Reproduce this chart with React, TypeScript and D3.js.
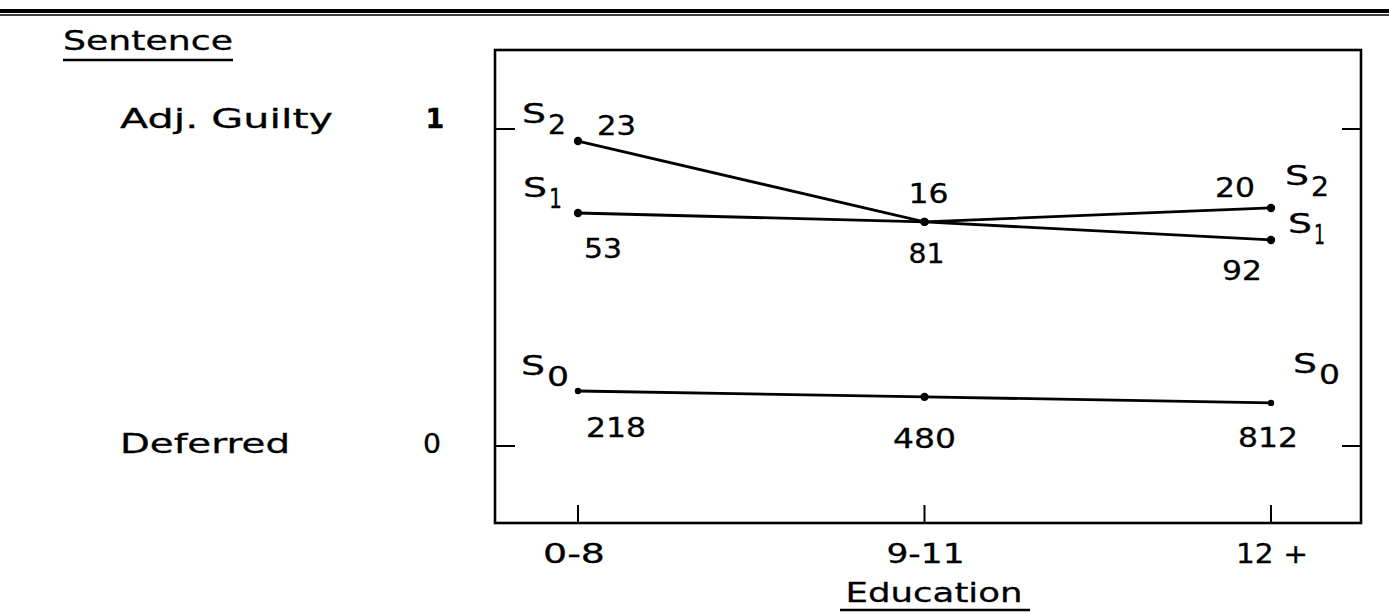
import React from "react";
import * as d3 from "d3";

// ---- data ----
const categories = ["0-8", "9-11", "12 +"];
const seriesNames = ["S0", "S1", "S2"];
const s0Values = [0.1735, 0.155, 0.136];
const s1Values = [0.735, 0.707, 0.65];
const s2Values = [0.962, 0.707, 0.751];
const s0Counts = [218, 480, 812];
const s1Counts = [53, 81, 92];
const s2Counts = [23, 16, 20];
const yTickValues = [0, 1];
const yTickLabels = ["Deferred", "Adj. Guilty"];

const W = 1389;
const H = 613;
const FONT = "DejaVu Sans";

const x = d3.scalePoint<string>().domain(categories).range([578, 1271]).padding(0);
const y = d3.scaleLinear().domain([0, 1]).range([446, 129]);

const box = { left: 495, right: 1361, top: 50, bottom: 523 };

const line = d3
  .line<number>()
  .x((_, i) => x(categories[i]) as number)
  .y((v) => y(v));

type TP = {
  x: number;
  y: number;
  w?: number;
  anchor?: "start" | "middle" | "end";
  size?: number;
  weight?: string;
  children: React.ReactNode;
};
const T = ({ x, y, w, anchor = "start", size = 27, weight = "normal", children }: TP) => (
  <text
    x={x}
    y={y}
    textAnchor={anchor}
    fontFamily={FONT}
    fontSize={size}
    fontWeight={weight}
    fill="#000"
    stroke="#000"
    strokeWidth={0.3}
    textLength={w}
    lengthAdjust={w ? "spacingAndGlyphs" : undefined}
  >
    {children}
  </text>
);

// series label "S" + subscript
const SLabel = ({ x0, yb, sub, subW = 18 }: { x0: number; yb: number; sub: string; subW?: number }) => (
  <g>
    <T x={x0} y={yb} w={24}>
      S
    </T>
    <T x={x0 + 26} y={yb + 11} w={subW}>
      {sub}
    </T>
  </g>
);

export default function App() {
  const series = [
    { name: seriesNames[0], values: s0Values, counts: s0Counts, r: 3.2 },
    { name: seriesNames[1], values: s1Values, counts: s1Counts, r: 4.2 },
    { name: seriesNames[2], values: s2Values, counts: s2Counts, r: 4.2 },
  ];
  const px = (i: number) => x(categories[i]) as number;

  return (
    <svg
      width={W}
      height={H}
      style={{ position: "absolute", left: 0, top: 0, background: "#fff" }}
    >
      {/* top double rule */}
      <rect x={0} y={9} width={W} height={4} fill="#000" />
      <line x1={0} x2={W} y1={15} y2={15} stroke="#000" strokeWidth={1.4} />

      {/* y title */}
      <T x={63} y={50} w={170}>
        Sentence
      </T>
      <line x1={63} x2={233} y1={60} y2={60} stroke="#000" strokeWidth={2.5} />

      {/* y category labels and tick values */}
      {yTickValues.map((v, i) => (
        <g key={v}>
          <T x={120} y={y(v) + (v === 1 ? -1 : 7)} w={v === 1 ? 213 : 170}>
            {yTickLabels[i]}
          </T>
          <T
            x={v === 1 ? 435 : 432}
            y={y(v) + (v === 1 ? -1 : 7)}
            anchor="middle"
            weight={v === 1 ? "bold" : "normal"}
            w={v === 1 ? undefined : 18}
          >
            {String(v)}
          </T>
        </g>
      ))}

      {/* frame */}
      <rect
        x={box.left}
        y={box.top}
        width={box.right - box.left}
        height={box.bottom - box.top}
        fill="none"
        stroke="#000"
        strokeWidth={2.6}
      />

      {/* y ticks on both sides */}
      {yTickValues.map((v) => (
        <g key={"t" + v}>
          <line x1={box.left} x2={box.left + 20} y1={y(v)} y2={y(v)} stroke="#000" strokeWidth={2} />
          <line x1={box.right - 19} x2={box.right} y1={y(v)} y2={y(v)} stroke="#000" strokeWidth={2} />
        </g>
      ))}

      {/* x ticks and labels */}
      {categories.map((c, i) => (
        <g key={c}>
          <line x1={px(i)} x2={px(i)} y1={box.bottom} y2={box.bottom - 18} stroke="#000" strokeWidth={2} />
          <T x={px(i) + (i === 0 ? -4 : 1)} y={563} anchor="middle" w={[62, 78, 72][i]}>
            {c}
          </T>
        </g>
      ))}

      {/* x title */}
      <T x={934} y={602} anchor="middle" w={177}>
        Education
      </T>
      <line x1={840} x2={1030} y1={610} y2={610} stroke="#000" strokeWidth={2.5} />

      {/* lines and points */}
      {series.map((s) => (
        <g key={s.name}>
          <path d={line(s.values) || ""} fill="none" stroke="#000" strokeWidth={2.8} />
          {s.values.map((v, i) => (
            <circle key={i} cx={px(i)} cy={y(v)} r={s.name === "S0" && i === 1 ? 4.2 : s.r} fill="#000" />
          ))}
        </g>
      ))}

      {/* S2 count labels */}
      <T x={px(0) + 19} y={y(s2Values[0]) - 6} w={39}>
        {String(s2Counts[0])}
      </T>
      <T x={px(1) + 4} y={y(s2Values[1]) - 19} anchor="middle" w={40}>
        {String(s2Counts[1])}
      </T>
      <T x={px(2) - 16} y={y(s2Values[2]) - 11} anchor="end" w={40}>
        {String(s2Counts[2])}
      </T>

      {/* S1 count labels */}
      <T x={px(0) + 6} y={y(s1Values[0]) + 45} w={38}>
        {String(s1Counts[0])}
      </T>
      <T x={px(1) + 2} y={y(s1Values[1]) + 41} anchor="middle" w={36}>
        {String(s1Counts[1])}
      </T>
      <T x={px(2) - 9} y={y(s1Values[2]) + 40} anchor="end" w={40}>
        {String(s1Counts[2])}
      </T>

      {/* S0 count labels */}
      {s0Counts.map((n, i) => (
        <T
          key={n}
          x={[px(0) + 8, px(1) + 0, px(2) - 3][i]}
          y={y(s0Values[i]) + [46, 51, 44][i]}
          anchor={i === 0 ? "start" : "middle"}
          w={[60, 63, 60][i]}
        >
          {String(n)}
        </T>
      ))}

      {/* series name labels */}
      <SLabel x0={522} yb={y(s2Values[0]) - 18} sub="2" />
      <SLabel x0={523} yb={y(s1Values[0]) - 16} sub="1" subW={13} />
      <SLabel x0={521} yb={y(s0Values[0]) - 16} sub="0" subW={22} />
      <SLabel x0={1285} yb={y(s2Values[2]) - 23} sub="2" />
      <SLabel x0={1288} yb={y(s1Values[2]) - 7} sub="1" subW={11} />
      <SLabel x0={1293} yb={y(s0Values[2]) - 30} sub="0" subW={21} />
    </svg>
  );
}
